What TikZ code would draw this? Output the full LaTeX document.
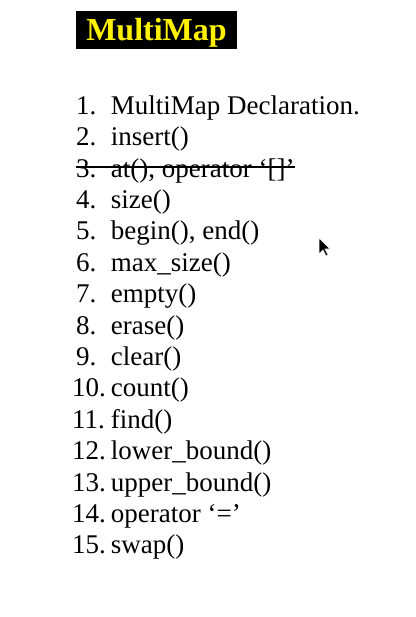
\documentclass[tikz,border=0pt]{standalone}
\usepackage{fontspec}
\setmainfont{Liberation Serif}
\usetikzlibrary{matrix}

\begin{document}
\begin{tikzpicture}[x=1pt, y=-1pt]
	\useasboundingbox (0, 0) rectangle (415, 617);

	\node[fill=black, text=yellow, inner sep=0pt, anchor=base, minimum width=161pt,
	  text height=30pt, text depth=8pt, font=\fontsize{32}{36}\selectfont\bfseries] (title) at (156.5, 41) {MultiMap};

\matrix (list) [matrix of nodes, anchor=north west, inner sep=0pt, column sep=5pt,
	nodes={inner sep=0pt, text height=20pt, text depth=11.4pt, font=\fontsize{27}{31}\selectfont},
	column 1/.style={nodes={anchor=base west}},
	column 2/.style={nodes={anchor=base west}}] at (72, 94) {
	|[xshift=4pt]| 1.  & MultiMap Declaration. \\
	|[xshift=4pt]| 2.  & insert() \\
	|[xshift=4pt]| 3.  & at(), operator `[]' \\
	|[xshift=4pt]| 4.  & size() \\
	|[xshift=4pt]| 5.  & begin(), end() \\
	|[xshift=4pt]| 6.  & max\_size() \\
	|[xshift=4pt]| 7.  & empty() \\
	|[xshift=4pt]| 8.  & erase() \\
	|[xshift=4pt]| 9.  & clear() \\
	10. & count() \\
	11. & find() \\
	12. & lower\_bound() \\
	13. & upper\_bound() \\
	14. & operator `=' \\
	15. & swap() \\};

	\draw[line width=1.5pt] ([xshift=4pt, yshift=10pt]list-3-1.base -| list.west) -- ([yshift=10pt]list-3-2.base east);

	\begin{scope}[shift={(319, 238)}]
	\fill[fill = black, draw = white, line width=0.6pt] (0, 0)
	  -- ++(0, 16)
	  -- ++(4, -4)
	  -- ++(3, 6)
	  -- ++(2, -1)
	  -- ++(-3, -6)
	  -- ++(5, 0)
	  -- cycle;
\end{scope}
\end{tikzpicture}
\end{document}
